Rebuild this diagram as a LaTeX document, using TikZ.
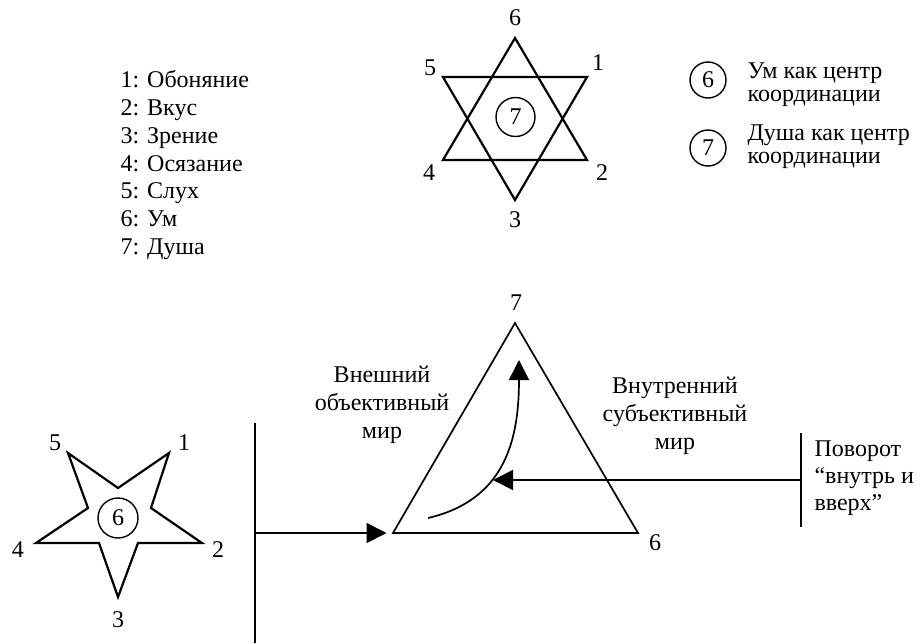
\documentclass[tikz,border=0pt]{standalone}
\usepackage{fontspec}
\setmainfont{Liberation Serif}
\usetikzlibrary{arrows.meta, positioning}

\begin{document}
\begin{tikzpicture}[x=1pt, y=-1pt,
    every node/.style={font=\fontsize{24}{27.8}\selectfont},
    ring/.style={draw, circle, line width=1.4pt, minimum size=39pt, inner sep=0pt},
    fig/.style={line width=2.2pt, line join=miter},
    bar/.style={line width=1.7pt},
    arr/.style={-{Triangle[length=20pt, width=20pt]}, line width=1.7pt},
    txt/.style={align=center, font=\fontsize{24}{28.3}\selectfont},
    note/.style={align=left, anchor=west, font=\fontsize{24}{23}\selectfont},
]
    \useasboundingbox (0,0) rectangle (921,643);

    \node[align=left, anchor=west] (list) at (117,165) {1: Обоняние\\2: Вкус\\3: Зрение\\4: Осязание\\5: Слух\\6: Ум\\7: Душа};

    \draw[fig] (515,38) -- (587,160) -- (443,160) -- cycle;
    \draw[fig] (443,77) -- (587,77) -- (515,200) -- cycle;
    \node[ring] (c7) at (515.5,117) {7};
    \node (h6) at (515,18) {6};
    \node (h5) at (430,68) {5};
    \node (h1) at (598,63) {1};
    \node (h4) at (429,173) {4};
    \node (h2) at (602,173) {2};
    \node (h3) at (515,220) {3};

    \node[ring, minimum size=36pt] (k6) at (708,80) {6};
    \node[note] (k6t) at (744,85) {Ум как центр\\координации};
    \node[ring, minimum size=36pt] (k7) at (708,148) {7};
    \node[note] (k7t) at (744,147) {Душа как центр\\координации};

    \draw[fig] (68,453) -- (118,488) -- (169,453) -- (151,508) -- (202,543) -- (138,543)
        -- (118,597) -- (99,543) -- (36,543) -- (88,508) -- cycle;
    \node[ring, minimum size=40pt] (c6) at (118,518) {6};
    \node (p5) at (55,443) {5};
    \node (p1) at (184,443) {1};
    \node (p4) at (18,550) {4};
    \node (p2) at (218,550) {2};
    \node (p3) at (118,620) {3};

    \coordinate (lbT) at (255,423);
    \coordinate (lbB) at (255,643);
    \coordinate (lbM) at (255,533);
    \draw[bar] (lbT) -- (lbB);

    \coordinate (t7) at (515,323);
    \coordinate (tL) at (393,533);
    \coordinate (t6) at (638,533);
    \draw[bar, line join=miter] (t7) -- (t6) -- (tL) -- cycle;
    \node (n7) at (516,303) {7};
    \node (n6) at (655,543) {6};

    \node[txt] (ext) at (382,405) {Внешний\\объективный\\мир};
    \node[txt] (int) at (675,416) {Внутренний\\субъективный\\мир};

    \coordinate (rbT) at (801,433);
    \coordinate (rbB) at (801,527);
    \coordinate (rbM) at (801,480);
    \draw[bar] (rbT) -- (rbB);
    \node[align=left, anchor=west, font=\fontsize{24}{27}\selectfont] (turn) at (811,478) {Поворот\\“внутрь и\\вверх”};

    \coordinate (cS) at (428,518);
    \coordinate (cE) at (519,360);
    \coordinate (tip) at (493,480);
    \draw[arr, shorten >=6.5pt] (lbM) -- (tL);
    \draw[arr] (rbM) -- (tip);
    \draw[arr] (cS) .. controls (505,500) and (519,440) .. (cE);
\end{tikzpicture}
\end{document}
